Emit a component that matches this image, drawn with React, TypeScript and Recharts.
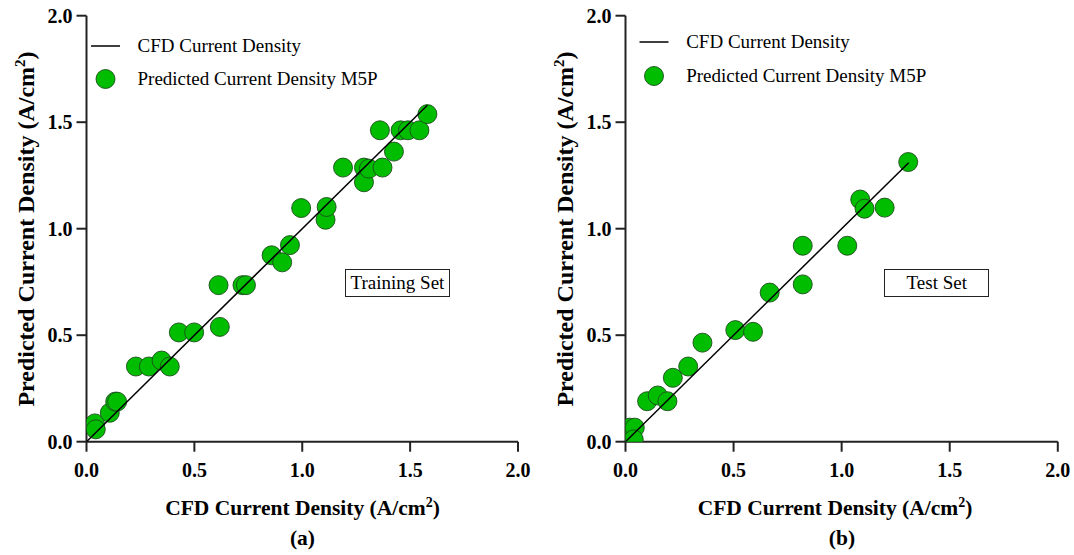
import React from "react";
import { ScatterChart, Scatter, XAxis, YAxis } from "recharts";

// ---- data ----
const axisTicks = [0, 0.5, 1.0, 1.5, 2.0];

const trainCFD = [0.039, 0.043, 0.108, 0.133, 0.142, 0.229, 0.289, 0.348, 0.386, 0.428, 0.499, 0.612, 0.618, 0.723, 0.739, 0.858, 0.907, 0.943, 0.995, 1.108, 1.113, 1.189, 1.286, 1.286, 1.309, 1.36, 1.372, 1.425, 1.456, 1.49, 1.543, 1.58];
const trainPred = [0.086, 0.058, 0.136, 0.188, 0.188, 0.353, 0.353, 0.381, 0.353, 0.513, 0.513, 0.735, 0.539, 0.735, 0.735, 0.875, 0.842, 0.923, 1.097, 1.042, 1.102, 1.287, 1.287, 1.218, 1.282, 1.462, 1.287, 1.362, 1.462, 1.462, 1.462, 1.538];

const testCFD = [0.02, 0.043, 0.038, 0.1, 0.149, 0.194, 0.219, 0.29, 0.356, 0.508, 0.59, 0.667, 0.82, 0.82, 1.026, 1.086, 1.106, 1.199, 1.308];
const testPred = [0.066, 0.066, 0.011, 0.19, 0.217, 0.19, 0.3, 0.353, 0.465, 0.524, 0.516, 0.7, 0.7385, 0.92, 0.92, 1.137, 1.094, 1.099, 1.313];

const trainLineEnd = 1.58;
const testLineEnd = 1.31;

const legendLine = "CFD Current Density";
const legendDots = "Predicted Current Density M5P";
const xTitle = "CFD Current Density (A/cm";
const yTitle = "Predicted Current Density (A/cm";

const toPoints = (xs: number[], ys: number[]) => xs.map((x, i) => ({ x, y: ys[i] }));

const SERIF = "'Liberation Serif', Tinos, 'Times New Roman', Times, 'DejaVu Serif', serif";
const GREEN = "#00BD00";

const Dot = (props: any) => {
  const { cx, cy } = props;
  if (cx == null || cy == null) return <g />;
  return <circle cx={cx} cy={cy} r={9.5} fill={GREEN} stroke="#1d4d1d" strokeWidth={0.9} />;
};

const NoShape = () => <g />;

type PanelProps = {
  left: number;
  width: number;
  marginRight: number;
  points: { x: number; y: number }[];
  lineEnd: number;
  legendDx: number;
  legendY1: number;
  legendY2: number;
  boxLeft: number;
  boxWidth: number;
  boxText: string;
  xTitleCenter: number;
  tag: string;
  tagCenter: number;
};

const Panel = (p: PanelProps) => {
  const diag = [
    { x: 0, y: 0 },
    { x: p.lineEnd, y: p.lineEnd },
  ];
  const plotLeft = 86.5;
  const tickStyle = { fontFamily: SERIF, fontSize: 20, fontWeight: 700, fill: "#000" };
  return (
    <div style={{ position: "absolute", left: p.left, top: 0, width: p.width, height: 555, fontFamily: SERIF }}>
      <ScatterChart
        width={p.width}
        height={555}
        margin={{ top: 15.7, right: p.marginRight, bottom: 83.3, left: 26.5 }}
        style={{ fontFamily: SERIF }}
      >
        <XAxis
          type="number"
          dataKey="x"
          domain={[0, 2]}
          ticks={axisTicks}
          allowDataOverflow
          height={30}
          tickSize={10}
          tickMargin={11}
          tickFormatter={(v: number) => v.toFixed(1)}
          tick={tickStyle}
          axisLine={{ stroke: "#222", strokeWidth: 2 }}
          tickLine={{ stroke: "#222", strokeWidth: 2 }}
        />
        <YAxis
          type="number"
          dataKey="y"
          domain={[0, 2]}
          ticks={axisTicks}
          allowDataOverflow
          width={60}
          tickSize={10}
          tickMargin={4}
          tickFormatter={(v: number) => v.toFixed(1)}
          tick={tickStyle}
          axisLine={{ stroke: "#222", strokeWidth: 2 }}
          tickLine={{ stroke: "#222", strokeWidth: 2 }}
        />
        <Scatter data={p.points} shape={Dot} isAnimationActive={false} />
        <Scatter
          data={diag}
          line={{ stroke: "#000", strokeWidth: 1.5 }}
          lineType="joint"
          shape={NoShape}
          isAnimationActive={false}
        />
      </ScatterChart>

      {/* legend */}
      <svg
        style={{ position: "absolute", left: 0, top: 0 }}
        width={p.width}
        height={100}
      >
        <line
          x1={plotLeft + p.legendDx}
          x2={plotLeft + p.legendDx + 29}
          y1={p.legendY1}
          y2={p.legendY1}
          stroke="#000"
          strokeWidth={1.5}
        />
        <circle
          cx={plotLeft + p.legendDx + 14.5}
          cy={p.legendY2}
          r={9.5}
          fill={GREEN}
          stroke="#1d4d1d"
          strokeWidth={0.9}
        />
      </svg>
      <div
        style={{
          position: "absolute",
          left: plotLeft + p.legendDx + 46.5,
          top: p.legendY1 - 12,
          height: 24,
          lineHeight: "24px",
          fontFamily: SERIF,
          fontSize: 19,
          whiteSpace: "nowrap",
        }}
      >
        {legendLine}
      </div>
      <div
        style={{
          position: "absolute",
          left: plotLeft + p.legendDx + 46.5,
          top: p.legendY2 - 12,
          height: 24,
          lineHeight: "24px",
          fontFamily: SERIF,
          fontSize: 19,
          whiteSpace: "nowrap",
        }}
      >
        {legendDots}
      </div>

      {/* annotation box */}
      <div
        style={{
          position: "absolute",
          left: p.boxLeft,
          top: 269,
          width: p.boxWidth,
          height: 28,
          boxSizing: "border-box",
          border: "1.5px solid #222",
          fontFamily: SERIF,
          fontSize: 19,
          lineHeight: "25px",
          textAlign: "center",
          whiteSpace: "nowrap",
        }}
      >
        {p.boxText}
      </div>

      {/* x title */}
      <div
        style={{
          position: "absolute",
          left: p.xTitleCenter - 200,
          width: 400,
          top: 494,
          textAlign: "center",
          fontFamily: SERIF,
          fontSize: 21.5,
          fontWeight: 700,
          whiteSpace: "nowrap",
          lineHeight: "28px",
        }}
      >
        {xTitle}
        <sup style={{ fontSize: 14, lineHeight: 0 }}>2</sup>)
      </div>
      {/* tag */}
      <div
        style={{
          position: "absolute",
          left: p.tagCenter - 30,
          width: 60,
          top: 524,
          textAlign: "center",
          fontFamily: SERIF,
          fontSize: 21.5,
          fontWeight: 700,
          lineHeight: "28px",
        }}
      >
        {p.tag}
      </div>
      {/* y title */}
      <div
        style={{
          position: "absolute",
          left: 26 - 250,
          top: 229 - 15,
          width: 500,
          height: 30,
          lineHeight: "30px",
          textAlign: "center",
          transform: "rotate(-90deg)",
          transformOrigin: "250px 15px",
          fontFamily: SERIF,
          fontSize: 24,
          fontWeight: 700,
          whiteSpace: "nowrap",
        }}
      >
        {yTitle}
        <sup style={{ fontSize: 15, lineHeight: 0 }}>2</sup>)
      </div>
    </div>
  );
};

export default function App() {
  return (
    <div
      style={{
        position: "absolute",
        left: 0,
        top: 0,
        width: 1074,
        height: 555,
        background: "#fff",
        overflow: "hidden",
      }}
    >
      <Panel
        left={0}
        width={540}
        marginRight={22}
        points={toPoints(trainCFD, trainPred)}
        lineEnd={trainLineEnd}
        legendDx={4.5}
        legendY1={46}
        legendY2={79}
        boxLeft={345}
        boxWidth={105}
        boxText="Training Set"
        xTitleCenter={302.5}
        tag="(a)"
        tagCenter={302.5}
      />
      <Panel
        left={539.2}
        width={534.8}
        marginRight={16}
        points={toPoints(testCFD, testPred)}
        lineEnd={testLineEnd}
        legendDx={14}
        legendY1={42}
        legendY2={76}
        boxLeft={884.3 - 539.2}
        boxWidth={105}
        boxText="Test Set"
        xTitleCenter={835 - 539.2}
        tag="(b)"
        tagCenter={842 - 539.2}
      />
    </div>
  );
}
